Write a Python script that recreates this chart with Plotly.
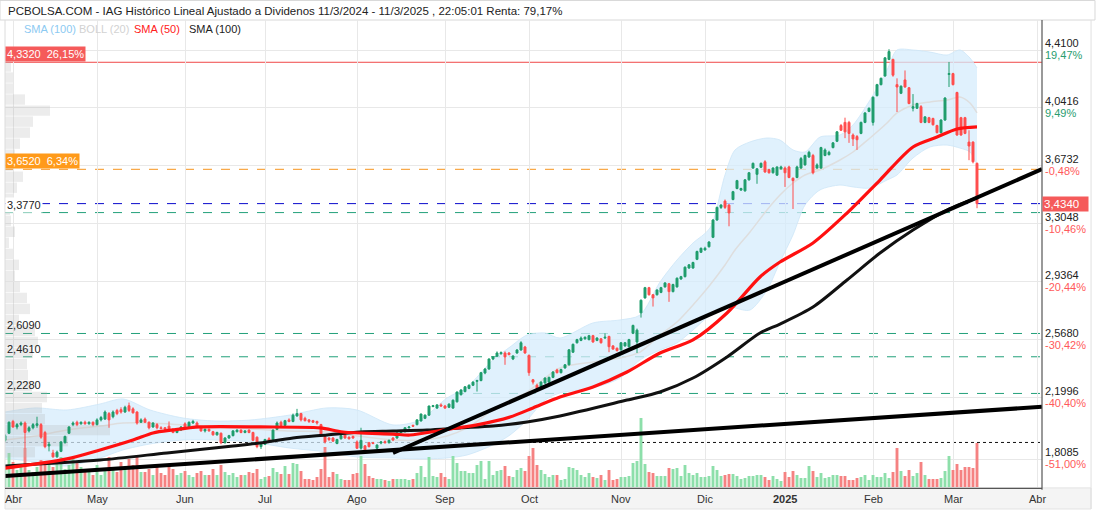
import numpy as np
import pandas as pd
import plotly.graph_objects as go

# ---------------- trading calendar (Bolsa de Madrid) ----------------
holidays = ["2024-03-29", "2024-04-01", "2024-05-01", "2024-12-25", "2024-12-26", "2025-01-01"]
all_days = pd.bdate_range("2024-03-27", "2025-04-01", freq="C", holidays=holidays)
dates = all_days[all_days <= "2025-03-11"]
origin = list(all_days).index(pd.Timestamp("2024-04-02"))
day_all = np.arange(len(all_days)) - origin
day = day_all[:len(dates)]

month_labels = ["Abr", "May", "Jun", "Jul", "Ago", "Sep", "Oct", "Nov", "Dic", "<b>2025</b>", "Feb", "Mar", "Abr"]

# ---------------- daily candles (open, high, low, close) ----------------
ohlc_mar24 = [(1.93, 1.97, 1.92, 1.96), (1.975, 2.05, 1.97, 2.045)]
ohlc_apr24 = [
    (2.05, 2.06, 2.01, 2.015), (2.015, 2.04, 2.00, 2.03), (2.03, 2.05, 2.02, 2.04), (2.04, 2.05, 1.88, 1.98),
    (1.99, 2.02, 1.98, 2.01), (2.01, 2.04, 2.00, 2.03), (2.025, 2.08, 2.01, 2.035), (2.03, 2.04, 1.94, 1.95),
    (1.98, 1.99, 1.88, 1.89), (1.895, 1.92, 1.86, 1.905), (1.85, 1.87, 1.82, 1.825), (1.825, 1.865, 1.82, 1.855),
    (1.86, 1.925, 1.855, 1.92), (1.915, 1.96, 1.91, 1.955), (1.975, 2.02, 1.97, 2.015), (2.03, 2.05, 2.02, 2.04),
    (2.045, 2.055, 2.02, 2.03), (2.035, 2.05, 2.03, 2.045), (2.045, 2.055, 2.03, 2.035), (2.035, 2.05, 2.03, 2.045),
    (2.045, 2.05, 2.02, 2.03)]
ohlc_may24 = [
    (2.03, 2.07, 2.025, 2.06), (2.06, 2.085, 2.05, 2.075), (2.065, 2.12, 2.06, 2.11), (2.10, 2.11, 2.01, 2.06),
    (2.08, 2.12, 2.07, 2.11), (2.12, 2.13, 2.09, 2.10), (2.125, 2.14, 2.10, 2.11), (2.11, 2.15, 2.105, 2.14),
    (2.15, 2.17, 2.11, 2.12), (2.13, 2.14, 2.10, 2.105), (2.11, 2.115, 2.03, 2.04), (2.045, 2.07, 2.04, 2.06),
    (2.065, 2.075, 2.04, 2.045), (2.045, 2.05, 2.00, 2.01), (2.015, 2.045, 2.01, 2.04), (2.03, 2.04, 2.00, 2.01),
    (2.01, 2.02, 2.0, 2.005), (2.01, 2.015, 1.99, 2.0), (2.02, 2.05, 1.99, 1.995), (2.0, 2.005, 1.975, 1.98),
    (1.98, 2.0, 1.975, 1.995), (1.995, 2.02, 1.99, 2.015)]
ohlc_jun24 = [
    (2.035, 2.045, 2.01, 2.015), (2.01, 2.05, 2.005, 2.045), (2.04, 2.06, 2.035, 2.05), (2.04, 2.05, 2.015, 2.02),
    (2.01, 2.02, 1.985, 1.99), (1.99, 2.005, 1.98, 2.0), (2.0, 2.005, 1.985, 1.99), (1.985, 1.99, 1.96, 1.965),
    (1.965, 1.985, 1.96, 1.98), (1.975, 1.98, 1.905, 1.915), (1.915, 1.95, 1.91, 1.945), (1.945, 1.965, 1.94, 1.96),
    (1.96, 1.995, 1.955, 1.99), (1.985, 2.0, 1.98, 1.995), (1.995, 2.0, 1.975, 1.98), (1.98, 1.995, 1.975, 1.99),
    (1.995, 2.0, 1.975, 1.98), (1.98, 1.985, 1.925, 1.93), (1.95, 1.955, 1.88, 1.89), (1.89, 1.91, 1.875, 1.905)]
ohlc_jul24 = [
    (1.905, 1.94, 1.90, 1.935), (1.94, 1.95, 1.92, 1.925), (1.93, 2.0, 1.925, 1.995), (2.0, 2.05, 1.995, 2.04),
    (2.045, 2.055, 2.02, 2.025), (2.025, 2.06, 2.02, 2.055), (2.06, 2.07, 2.045, 2.05), (2.05, 2.10, 2.045, 2.09),
    (2.085, 2.13, 2.08, 2.10), (2.10, 2.105, 2.05, 2.06), (2.07, 2.08, 2.05, 2.055), (2.06, 2.065, 2.04, 2.05),
    (2.055, 2.06, 2.04, 2.045), (2.05, 2.055, 2.03, 2.04), (2.03, 2.035, 1.96, 1.97), (1.955, 1.96, 1.91, 1.92),
    (1.945, 1.95, 1.925, 1.935), (1.945, 1.95, 1.92, 1.925), (1.91, 1.94, 1.905, 1.935), (1.94, 1.965, 1.935, 1.96),
    (1.965, 1.97, 1.94, 1.945), (1.95, 1.955, 1.935, 1.94), (1.955, 1.96, 1.94, 1.945)]
ohlc_aug24 = [
    (1.92, 1.93, 1.875, 1.88), (1.88, 2.01, 1.87, 1.93), (1.895, 1.90, 1.86, 1.87), (1.915, 1.92, 1.885, 1.89),
    (1.915, 1.92, 1.905, 1.91), (1.88, 1.905, 1.875, 1.90), (1.913, 1.925, 1.905, 1.92), (1.922, 1.93, 1.91, 1.915),
    (1.915, 1.935, 1.91, 1.93), (1.945, 1.95, 1.925, 1.932), (1.945, 1.98, 1.94, 1.977), (1.98, 1.99, 1.975, 1.985),
    (1.985, 2.012, 1.98, 2.01), (2.01, 2.02, 2.005, 2.015), (2.025, 2.03, 2.015, 2.02), (2.03, 2.065, 2.025, 2.06),
    (2.053, 2.10, 2.05, 2.097), (2.07, 2.095, 2.065, 2.09), (2.09, 2.15, 2.085, 2.148), (2.145, 2.155, 2.14, 2.15),
    (2.135, 2.16, 2.13, 2.155), (2.155, 2.165, 2.145, 2.148)]
ohlc_sep24 = [
    (2.148, 2.155, 2.13, 2.135), (2.14, 2.165, 2.135, 2.16), (2.135, 2.19, 2.13, 2.185), (2.175, 2.24, 2.17, 2.237),
    (2.22, 2.255, 2.215, 2.25), (2.24, 2.275, 2.235, 2.27), (2.26, 2.285, 2.255, 2.28), (2.28, 2.305, 2.275, 2.30),
    (2.305, 2.315, 2.24, 2.31), (2.31, 2.365, 2.305, 2.36), (2.358, 2.39, 2.35, 2.383), (2.383, 2.45, 2.38, 2.447),
    (2.447, 2.465, 2.44, 2.46), (2.465, 2.495, 2.46, 2.485), (2.48, 2.495, 2.475, 2.487), (2.485, 2.495, 2.41, 2.46),
    (2.485, 2.49, 2.47, 2.475), (2.447, 2.47, 2.44, 2.466), (2.485, 2.51, 2.48, 2.504), (2.504, 2.56, 2.50, 2.55),
    (2.523, 2.53, 2.48, 2.485)]
ohlc_oct24 = [
    (2.47, 2.475, 2.34, 2.36), (2.315, 2.32, 2.285, 2.30), (2.28, 2.29, 2.255, 2.26), (2.27, 2.305, 2.265, 2.30),
    (2.294, 2.33, 2.29, 2.326), (2.30, 2.335, 2.295, 2.33), (2.33, 2.37, 2.325, 2.364), (2.377, 2.385, 2.355, 2.36),
    (2.36, 2.385, 2.355, 2.38), (2.39, 2.415, 2.385, 2.41), (2.41, 2.51, 2.405, 2.505), (2.49, 2.545, 2.485, 2.54),
    (2.55, 2.575, 2.545, 2.57), (2.565, 2.59, 2.56, 2.58), (2.575, 2.59, 2.57, 2.585), (2.57, 2.60, 2.565, 2.595),
    (2.595, 2.60, 2.55, 2.555), (2.565, 2.585, 2.56, 2.58), (2.575, 2.58, 2.545, 2.55), (2.58, 2.61, 2.575, 2.585),
    (2.59, 2.595, 2.49, 2.525), (2.53, 2.535, 2.505, 2.51), (2.515, 2.52, 2.495, 2.50)]
ohlc_nov24 = [
    (2.505, 2.555, 2.50, 2.55), (2.53, 2.555, 2.525, 2.55), (2.525, 2.575, 2.52, 2.57), (2.61, 2.665, 2.605, 2.66),
    (2.555, 2.64, 2.485, 2.63), (2.74, 2.825, 2.71, 2.82), (2.835, 2.905, 2.83, 2.90), (2.90, 2.905, 2.85, 2.855),
    (2.855, 2.86, 2.78, 2.835), (2.855, 2.89, 2.85, 2.885), (2.87, 2.905, 2.865, 2.90), (2.905, 2.935, 2.90, 2.93),
    (2.925, 2.93, 2.81, 2.875), (2.875, 2.925, 2.87, 2.92), (2.905, 2.965, 2.90, 2.96), (2.955, 2.975, 2.95, 2.97),
    (2.97, 3.035, 2.965, 3.03), (3.025, 3.05, 3.02, 3.045), (3.025, 3.065, 3.02, 3.06), (3.08, 3.135, 3.075, 3.13),
    (3.125, 3.155, 3.12, 3.15)]
ohlc_dec24 = [
    (3.14, 3.16, 3.135, 3.15), (3.16, 3.195, 3.155, 3.19), (3.22, 3.335, 3.215, 3.33), (3.33, 3.415, 3.325, 3.41),
    (3.41, 3.43, 3.40, 3.425), (3.45, 3.46, 3.40, 3.41), (3.425, 3.43, 3.29, 3.375), (3.46, 3.515, 3.455, 3.51),
    (3.53, 3.585, 3.525, 3.58), (3.52, 3.535, 3.515, 3.53), (3.515, 3.59, 3.51, 3.585), (3.585, 3.635, 3.58, 3.63),
    (3.66, 3.695, 3.655, 3.69), (3.62, 3.66, 3.56, 3.655), (3.665, 3.695, 3.66, 3.69), (3.70, 3.71, 3.63, 3.635),
    (3.65, 3.655, 3.625, 3.63), (3.63, 3.665, 3.625, 3.66), (3.615, 3.67, 3.61, 3.667), (3.655, 3.675, 3.65, 3.667)]
ohlc_jan25 = [
    (3.66, 3.67, 3.54, 3.63), (3.667, 3.675, 3.595, 3.60), (3.595, 3.60, 3.40, 3.58), (3.60, 3.675, 3.595, 3.667),
    (3.66, 3.73, 3.655, 3.72), (3.68, 3.745, 3.675, 3.74), (3.73, 3.77, 3.725, 3.76), (3.74, 3.75, 3.62, 3.63),
    (3.66, 3.69, 3.655, 3.68), (3.66, 3.795, 3.655, 3.79), (3.74, 3.785, 3.735, 3.775), (3.745, 3.77, 3.74, 3.76),
    (3.79, 3.825, 3.785, 3.82), (3.83, 3.895, 3.825, 3.89), (3.93, 3.94, 3.895, 3.90), (3.95, 3.98, 3.85, 3.89),
    (3.95, 3.96, 3.82, 3.88), (3.87, 3.88, 3.80, 3.845), (3.86, 3.87, 3.775, 3.84), (3.88, 3.955, 3.875, 3.95),
    (3.95, 4.015, 3.945, 4.01), (4.02, 4.045, 4.015, 4.04)]
ohlc_feb25 = [
    (3.95, 4.115, 3.93, 4.11), (4.12, 4.195, 4.115, 4.19), (4.19, 4.235, 4.185, 4.23), (4.245, 4.365, 4.24, 4.36),
    (4.35, 4.415, 4.345, 4.40), (4.35, 4.355, 4.24, 4.25), (4.19, 4.23, 4.016, 4.175), (4.135, 4.185, 4.13, 4.18),
    (4.22, 4.28, 4.17, 4.175), (4.17, 4.175, 4.065, 4.07), (4.04, 4.13, 4.02, 4.05), (4.04, 4.075, 4.035, 4.07),
    (4.05, 4.06, 3.945, 3.95), (3.95, 3.99, 3.945, 3.985), (3.98, 3.985, 3.945, 3.95), (3.975, 3.98, 3.93, 3.935),
    (3.93, 3.935, 3.88, 3.885), (3.885, 3.97, 3.88, 3.965), (3.965, 4.11, 3.96, 4.105), (4.255, 4.334, 4.175, 4.26)]
ohlc_mar25 = [
    (4.26, 4.265, 4.185, 4.19), (4.14, 4.145, 3.865, 3.87), (3.98, 3.985, 3.865, 3.87), (3.98, 3.985, 3.875, 3.88),
    (3.825, 3.90, 3.71, 3.80), (3.825, 3.83, 3.69, 3.70), (3.69, 3.695, 3.405, 3.434)]

# ---------------- daily volume (millions of shares) ----------------
vol_mar24 = [20, 34]
vol_apr24 = [25, 17, 20, 39, 17, 15, 20, 27, 22, 24, 20, 27, 30, 18, 22, 30, 25, 20, 15, 15, 12]
vol_may24 = [22, 12, 18, 30, 20, 15, 25, 18, 28, 22, 30, 15, 15, 18, 12, 20, 14, 12, 22, 18, 12, 14]
vol_jun24 = [16, 12, 10, 14, 16, 12, 12, 18, 12, 22, 15, 12, 14, 10, 12, 12, 15, 14, 18, 8]
vol_jul24 = [10, 11, 19, 15, 13, 21, 13, 24, 23, 16, 8, 8, 7, 10, 18, 40, 10, 15, 13, 8, 7, 7, 13]
vol_aug24 = [14, 31, 23, 11, 9, 8, 8, 7, 6, 8, 8, 8, 8, 7, 8, 14, 21, 10, 30, 11, 10, 14]
vol_sep24 = [10, 8, 31, 24, 16, 16, 14, 14, 22, 26, 8, 26, 12, 16, 17, 21, 11, 10, 17, 19, 16]
vol_oct24 = [31, 39, 22, 17, 13, 10, 12, 12, 7, 8, 20, 19, 17, 12, 10, 14, 10, 9, 12, 7, 17, 7, 8]
vol_nov24 = [10, 10, 11, 24, 26, 69, 23, 15, 14, 11, 11, 11, 19, 18, 19, 11, 22, 14, 12, 14, 10]
vol_dec24 = [10, 11, 21, 17, 11, 12, 13, 13, 11, 8, 9, 11, 11, 12, 12, 10, 7, 11, 8, 6]
vol_jan25 = [15, 10, 16, 12, 9, 9, 21, 16, 10, 14, 9, 10, 12, 12, 11, 11, 7, 7, 9, 10, 12, 7]
vol_feb25 = [12, 10, 10, 14, 9, 15, 39, 16, 11, 17, 11, 14, 25, 12, 8, 8, 8, 9, 16, 31]
vol_mar25 = [17, 23, 17, 20, 20, 19, 44]

# ---------------- indicators (trading-day number, price) ----------------
sma50_day = [-2, 13.5, 21.75, 30, 35, 40, 46.75, 61.75, 76.75, 82.5, 95, 99.25, 107.5, 116, 124.25, 130,
             136.75, 145, 153.5, 161.75, 170, 178.5, 186.75, 191.75, 200, 208.5, 216.75, 225, 231, 236, 241]
sma50_val = [1.754, 1.812, 1.869, 1.932, 1.977, 1.996, 2.015, 2.015, 2.009, 1.983, 1.970, 1.964, 1.996, 2.028,
             2.078, 2.136, 2.205, 2.269, 2.364, 2.485, 2.568, 2.739, 2.968, 3.063, 3.184, 3.374, 3.584, 3.794,
             3.857, 3.908, 3.921]
sma100_day = [-2, 21.75, 38.5, 55, 61.75, 70, 78.5, 86.75, 95, 103.5, 111.75, 120, 128.5, 136.75, 153.5,
              161.75, 170, 178.5, 186.75, 191.75, 200, 208.5, 216.75, 225, 233.5, 241]
sma100_val = [1.767, 1.805, 1.850, 1.894, 1.913, 1.945, 1.964, 1.983, 1.989, 1.996, 2.009, 2.021, 2.047, 2.085,
              2.186, 2.237, 2.326, 2.460, 2.612, 2.669, 2.777, 2.949, 3.120, 3.266, 3.393, 3.470]
bb_day = [-2, 5.5, 13.5, 21.75, 27.5, 34.25, 42.5, 50.5, 59.25, 69.25, 78.5, 86, 95, 101.75, 108.5, 113.5,
          120, 124.25, 128.5, 133, 136.75, 145, 151.75, 156.75, 161.75, 166, 170, 174.25, 178, 180.5, 184.25,
          188.5, 191.75, 195, 198, 201.75, 206.75, 210, 214.25, 218.5, 221, 225, 229.25, 233.5, 236.75,
          239.25, 241]
bb_upper = [2.110, 2.136, 2.123, 2.161, 2.193, 2.123, 2.072, 2.053, 2.059, 2.091, 2.136, 2.123, 2.028, 2.059,
            2.199, 2.269, 2.441, 2.523, 2.599, 2.612, 2.580, 2.676, 2.695, 2.726, 2.936, 3.076, 3.184, 3.279,
            3.616, 3.775, 3.826, 3.851, 3.838, 3.775, 3.762, 3.857, 3.870, 3.934, 4.092, 4.283, 4.410, 4.410,
            4.397, 4.378, 4.410, 4.359, 4.296]
bb_mid = [1.932, 1.958, 1.996, 2.021, 2.040, 2.040, 2.028, 2.015, 2.002, 1.989, 1.983, 1.958, 1.932, 1.932,
          1.958, 2.009, 2.123, 2.186, 2.237, 2.326, 2.390, 2.428, 2.453, 2.491, 2.599, 2.682, 2.790, 2.917,
          3.044, 3.139, 3.254, 3.394, 3.489, 3.565, 3.616, 3.648, 3.711, 3.762, 3.851, 3.946, 4.010, 4.061,
          4.080, 4.092, 4.111, 4.073, 4.010]
bb_lower = [1.818, 1.793, 1.767, 1.818, 1.869, 1.907, 1.932, 1.932, 1.920, 1.881, 1.856, 1.824, 1.818, 1.812,
            1.818, 1.837, 1.901, 1.964, 2.059, 2.186, 2.231, 2.263, 2.326, 2.441, 2.504, 2.549, 2.631, 2.726,
            2.790, 2.771, 2.758, 2.885, 3.063, 3.235, 3.425, 3.521, 3.552, 3.540, 3.533, 3.584, 3.616, 3.724,
            3.794, 3.806, 3.787, 3.762, 3.679]

# hand-drawn trend lines (start / end points)
trend_long_day = [-2, 257.25]
trend_long_val = [1.7035, 2.1433]
trend_short_day = [95, 257.25]
trend_short_val = [1.8496, 3.653]

# volume-by-price profile (price bin centre, relative volume)
profile_price = [4.375, 4.305, 4.235, 4.165, 4.095, 4.025, 3.955, 3.885, 3.815, 3.745, 3.675, 3.605, 3.535,
                 3.465, 3.395, 3.325, 3.255, 3.185, 3.115, 3.045, 2.975, 2.905, 2.835, 2.765, 2.695, 2.625,
                 2.555, 2.485, 2.415, 2.345, 2.275, 2.205, 2.135, 2.065, 1.995, 1.925, 1.855]
profile_vol = [6, 6, 8, 8, 20, 45, 28, 25, 15, 10, 8, 18, 12, 8, 5, 6, 10, 4, 8, 14, 10, 15, 22, 25, 14, 30,
               33, 28, 22, 23, 27, 42, 37, 40, 105, 63, 30]

# horizontal levels
level_red = 4.332
level_orange = 3.652
level_last = 3.434
levels_green = [3.377, 2.609, 2.461, 2.228]
level_start = 1.9166
left_labels = [(4.332, "4,3320\u00a0\u00a026,15%", "#f55a5a", "white"),
               (3.652, "3,6520\u00a0\u00a06,34%", "#ff9a1a", "white"),
               (3.377, "3,3770", "white", "#222"), (2.609, "2,6090", None, "#222"),
               (2.461, "2,4610", None, "#222"), (2.228, "2,2280", None, "#222")]

# right price scale
scale_vals = [4.41, 4.0416, 3.6732, 3.3048, 2.9364, 2.568, 2.1996, 1.8085]
scale_text = ["4,4100", "4,0416", "3,6732", "3,3048", "2,9364", "2,5680", "2,1996", "1,8085"]
scale_pct = ["19,47%", "9,49%", "-0,48%", "-10,46%", "-20,44%", "-30,42%", "-40,40%", "-51,00%"]

# ---------------- assemble ----------------
ohlc = (ohlc_mar24 + ohlc_apr24 + ohlc_may24 + ohlc_jun24 + ohlc_jul24 + ohlc_aug24 + ohlc_sep24 +
        ohlc_oct24 + ohlc_nov24 + ohlc_dec24 + ohlc_jan25 + ohlc_feb25 + ohlc_mar25)
volume = (vol_mar24 + vol_apr24 + vol_may24 + vol_jun24 + vol_jul24 + vol_aug24 + vol_sep24 + vol_oct24 +
          vol_nov24 + vol_dec24 + vol_jan25 + vol_feb25 + vol_mar25)
n = min(len(ohlc), len(volume), len(day))
opens = [r[0] for r in ohlc[:n]]
highs = [r[1] for r in ohlc[:n]]
lows = [r[2] for r in ohlc[:n]]
closes = [r[3] for r in ohlc[:n]]
xday = day[:n]

GREEN = "#1f9d6d"
RED = "#ff4d4d"
VGREEN = "#8ddfaa"
VRED = "#f58282"
vol_colors = [VGREEN if c >= o else VRED for o, c in zip(opens, closes)]

month_days = [int(day_all[i]) for i in range(1, len(all_days)) if all_days[i].month != all_days[i - 1].month]

XR = [-2, 257.25]
YR = [1.6336, 4.6006]
FONT = "Liberation Sans, Arial, sans-serif"

fig = go.Figure()
# Bollinger band
fig.add_trace(go.Scatter(x=bb_day, y=bb_upper, mode="lines", line=dict(color="#cde6f8", width=0.8, shape="spline", smoothing=0.8),
                         hoverinfo="skip", showlegend=False))
fig.add_trace(go.Scatter(x=bb_day, y=bb_lower, mode="lines", fill="tonexty", fillcolor="rgba(214,236,252,0.75)",
                         line=dict(color="#cde6f8", width=0.8, shape="spline", smoothing=0.8), hoverinfo="skip", showlegend=False))
fig.add_trace(go.Scatter(x=bb_day, y=bb_mid, mode="lines", line=dict(color="#dedede", width=1.5, shape="spline", smoothing=0.8),
                         hoverinfo="skip", showlegend=False))
# volume
fig.add_trace(go.Bar(x=xday, y=volume[:n], marker=dict(color=vol_colors, line=dict(width=0)), width=0.72,
                     yaxis="y2", hoverinfo="skip", showlegend=False))
# volume profile
fig.add_trace(go.Bar(x=profile_vol, y=profile_price, orientation="h", width=0.066,
                     marker=dict(color="rgba(175,175,175,0.24)", line=dict(width=0)), xaxis="x2",
                     hoverinfo="skip", showlegend=False))
# candles
fig.add_trace(go.Candlestick(x=xday, open=opens, high=highs, low=lows, close=closes, xaxis="x3",
                             increasing=dict(line=dict(color=GREEN, width=1), fillcolor=GREEN),
                             decreasing=dict(line=dict(color=RED, width=1), fillcolor=RED),
                             whiskerwidth=0, hoverinfo="skip", showlegend=False))
# moving averages and trend lines
fig.add_trace(go.Scatter(x=sma100_day, y=sma100_val, mode="lines", xaxis="x3",
                         line=dict(color="#111111", width=3, shape="spline", smoothing=0.8), hoverinfo="skip", showlegend=False))
fig.add_trace(go.Scatter(x=sma50_day, y=sma50_val, mode="lines", xaxis="x3",
                         line=dict(color="#ff1010", width=3.2, shape="spline", smoothing=0.8), hoverinfo="skip", showlegend=False))
fig.add_trace(go.Scatter(x=trend_long_day, y=trend_long_val, mode="lines", xaxis="x3",
                         line=dict(color="#000000", width=4), hoverinfo="skip", showlegend=False))
fig.add_trace(go.Scatter(x=trend_short_day, y=trend_short_val, mode="lines", xaxis="x3",
                         line=dict(color="#000000", width=4), hoverinfo="skip", showlegend=False))

shapes = []
def hline(y, color, dash, width=1):
    shapes.append(dict(type="line", xref="paper", x0=0, x1=1, yref="y", y0=y, y1=y,
                       line=dict(color=color, width=width, dash=dash), layer="below"))
hline(level_red, "#f04848", "solid")
hline(level_orange, "#f7941d", "dash")
hline(level_last, "#0a0acc", "dash")
for g in levels_green:
    hline(g, "#22a07a", "dash")
hline(level_start, "#111111", "dot")

# frame pieces (paper coords: x=(px-5)/1037, y=(487-py)/467)
shapes += [
    dict(type="rect", xref="paper", yref="paper", x0=-0.0048, x1=1.0511, y0=1.0, y1=1.0418,
         line=dict(color="#d8d8d8", width=1), fillcolor="white", layer="below"),
    dict(type="rect", xref="paper", yref="paper", x0=0, x1=1.0473, y0=-0.0471, y1=-0.002,
         line=dict(color="#e2e2e2", width=1), fillcolor="#f4f4f4", layer="below"),
    dict(type="line", xref="paper", yref="paper", x0=0, x1=0, y0=-0.002, y1=1, line=dict(color="#dcdcdc", width=1)),
    dict(type="line", xref="paper", yref="paper", x0=1, x1=1, y0=-0.006, y1=1, line=dict(color="#555555", width=1.2)),
    dict(type="line", xref="paper", yref="paper", x0=0, x1=1, y0=-0.003, y1=-0.003, line=dict(color="#555555", width=1.2)),
    dict(type="line", xref="paper", yref="paper", x0=1.0473, x1=1.0473, y0=-0.0471, y1=1, line=dict(color="#e0e0e0", width=1)),
]

ann = []
ann.append(dict(xref="paper", yref="paper", x=0.001, y=1.0193, xanchor="left", yanchor="middle", showarrow=False,
                text="PCBOLSA.COM - IAG Histórico Lineal Ajustado a Dividenos 11/3/2024 - 11/3/2025 , 22:05:01 Renta: 79,17%",
                font=dict(family=FONT, size=11.5, color="#222")))
legend_items = [("SMA (100)", "#8ccaf2", 22), ("BOLL (20)", "#d2d2d2", 77), ("SMA (50)", "#ff2020", 132), ("SMA (100)", "#222222", 187)]
for txt, col, px in legend_items:
    ann.append(dict(xref="paper", yref="paper", x=(px - 5) / 1037, y=(487 - 29) / 467, xanchor="left", yanchor="middle",
                    showarrow=False, text=txt, font=dict(family=FONT, size=11, color=col)))
for yv, txt, bg, fc in left_labels:
    a = dict(xref="paper", yref="y", x=0, y=yv, xanchor="left", yanchor="bottom", showarrow=False, text=txt,
             font=dict(family=FONT, size=11, color=fc), borderpad=1)
    if bg:
        a["bgcolor"] = bg
    ann.append(a)
for v, t, p in zip(scale_vals, scale_text, scale_pct):
    ann.append(dict(xref="paper", yref="y", x=1, y=v, xanchor="left", yanchor="bottom", xshift=1, yshift=-1,
                    showarrow=False, text=t, font=dict(family=FONT, size=11, color="#222")))
    ann.append(dict(xref="paper", yref="y", x=1, y=v, xanchor="left", yanchor="top", xshift=1, yshift=3,
                    showarrow=False, text=p, font=dict(family=FONT, size=11, color="#2a9d6f" if not p.startswith("-") else "#ff5a5a")))
ann.append(dict(xref="paper", yref="y", x=1, y=level_last, xanchor="left", yanchor="middle", showarrow=False,
                text="3,4340", width=43, align="left", bgcolor="#f55a5a", borderpad=1,
                font=dict(family=FONT, size=11.5, color="white")))
for d, lab in zip(month_days, month_labels):
    ann.append(dict(xref="x", yref="paper", x=d, y=-0.0257, xanchor="center", yanchor="middle", showarrow=False,
                    text=lab, font=dict(family=FONT, size=11, color="#333")))

fig.update_layout(
    width=1096, height=512, autosize=False,
    margin=dict(l=5, r=54, t=20, b=25, pad=0),
    paper_bgcolor="white", plot_bgcolor="white",
    showlegend=False, hovermode=False, barmode="overlay", boxgap=0.3,
    font=dict(family=FONT, size=11, color="#222"),
    xaxis=dict(range=XR, tickvals=month_days, showticklabels=False, showgrid=True, gridcolor="#e8e8e8", gridwidth=1,
               zeroline=False, showline=False, ticks="", rangeslider=dict(visible=False), fixedrange=True),
    xaxis2=dict(overlaying="x", range=[0, 1037], visible=False, fixedrange=True),
    xaxis3=dict(overlaying="x", range=XR, visible=False, rangeslider=dict(visible=False), fixedrange=True),
    yaxis=dict(range=YR, tickvals=scale_vals, showticklabels=False, showgrid=True, gridcolor="#e8e8e8", gridwidth=1,
               zeroline=False, showline=False, ticks="", fixedrange=True),
    yaxis2=dict(overlaying="y", range=[0, 467], visible=False, fixedrange=True),
    shapes=shapes, annotations=ann,
)

fig.write_html("out.html")
